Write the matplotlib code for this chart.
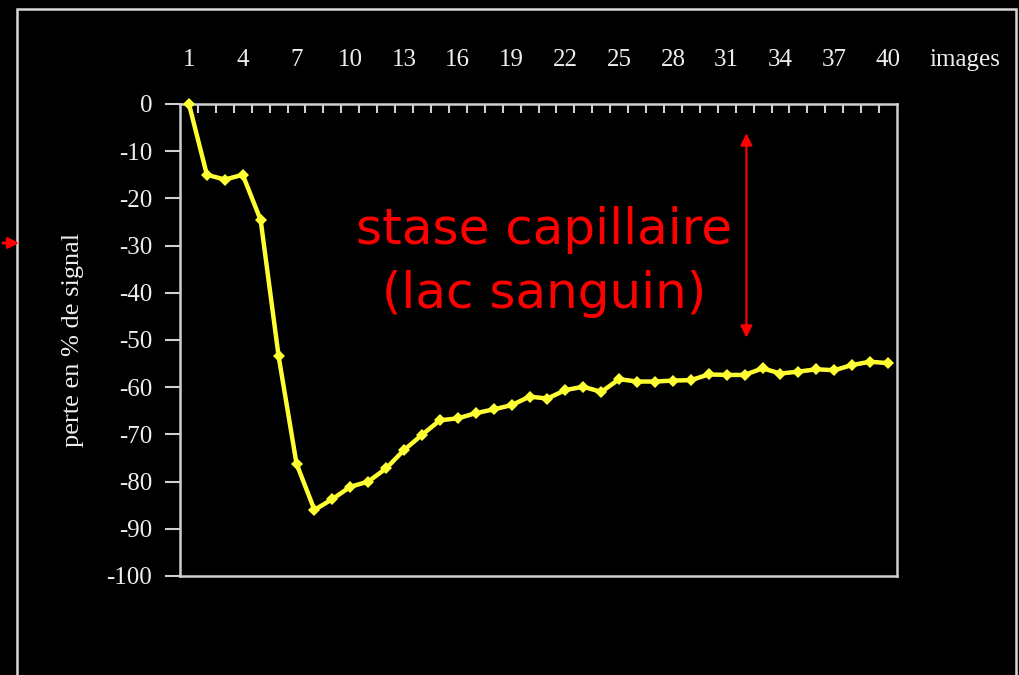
import numpy as np
import matplotlib
matplotlib.use('Agg')
import matplotlib.pyplot as plt
from matplotlib.patches import Rectangle, FancyArrowPatch

plt.rcParams['axes.unicode_minus'] = False

# signal loss per image
images = list(range(1, 41))
perte = [0, -15, -16, -15, -24.6, -53.4, -76.2, -86, -83.7, -81.1,
         -80, -77.2, -73.3, -70.1, -67, -66.6, -65.5, -64.7, -63.8, -62,
         -62.4, -60.6, -59.9, -61, -58.3, -58.8, -58.8, -58.6, -58.5, -57.3,
         -57.4, -57.4, -56, -57.1, -56.7, -56.2, -56.4, -55.3, -54.6, -54.9]
xtick_vals = list(range(1, 41, 3))
ytick_vals = list(range(-100, 1, 10))

W, H = 1019, 675
fig = plt.figure(figsize=(W / 100, H / 100), dpi=100, facecolor='black')

# outer frame of the slide
fig.patches.append(Rectangle((17 / W, -0.1), (1016 - 17) / W, 1.1 - 9 / H,
                             transform=fig.transFigure, fill=False,
                             edgecolor='#d8d8d8', linewidth=1.8))

ax = fig.add_axes([180 / W, 1 - 576 / H, (897 - 180) / W, (576 - 104) / H])
ax.set_facecolor('black')

ax.plot(images, perte, color='#ffff33', linewidth=3.2,
        marker='D', markersize=6.5, markeredgewidth=0, clip_on=False,
        zorder=5)

ax.set_xlim(0.5, 40.5)
ax.set_ylim(-100, 0)

grey = '#d0d0d0'
serif = 'Liberation Serif'
for sp in ax.spines.values():
    sp.set_color(grey)
    sp.set_linewidth(1.8)

ax.xaxis.tick_top()
ax.set_xticks(xtick_vals)
ax.set_xticks(np.arange(1.5, 40, 1), minor=True)
ax.tick_params(axis='x', which='major', length=0, pad=24, labelsize=18,
               labelcolor='#eeeeee')
ax.tick_params(axis='x', which='minor', direction='in', length=6.5,
               width=1.5, color=grey, top=True, bottom=False)
for lab in ax.get_xticklabels():
    lab.set_fontfamily(serif)

ax.set_yticks(ytick_vals)
ax.tick_params(axis='y', direction='out', length=11, width=1.5, color=grey,
               pad=9, labelsize=18, labelcolor='#eeeeee')
for lab in ax.get_yticklabels():
    lab.set_fontfamily(serif)

fig.text(965 / W, 1 - 60 / H, 'images', color='#eeeeee', fontsize=18,
         family=serif, ha='center', va='center')
fig.text(73 / W, 1 - 340 / H, 'perte en % de signal', color='#eeeeee',
         fontsize=19, family=serif, rotation=90, ha='center', va='center')

# red annotations
ax.text(20.8, -26.6, 'stase capillaire', color='red',
        fontsize=36, family='DejaVu Sans', ha='center', va='center')
ax.text(20.8, -40.3, '(lac sanguin)', color='red',
        fontsize=36, family='DejaVu Sans', ha='center', va='center')
ax.annotate('', xy=(32.1, -6.2), xytext=(32.1, -49.5),
            arrowprops=dict(arrowstyle='<|-|>', color='red', lw=1.5,
                            mutation_scale=18, shrinkA=0, shrinkB=0))
fig.patches.append(FancyArrowPatch(
    (0 / W, 1 - 243 / H), (22 / W, 1 - 243 / H), transform=fig.transFigure,
    arrowstyle='-|>', color='red', lw=2, mutation_scale=16))

fig.savefig('out.png', dpi=100, facecolor='black')
